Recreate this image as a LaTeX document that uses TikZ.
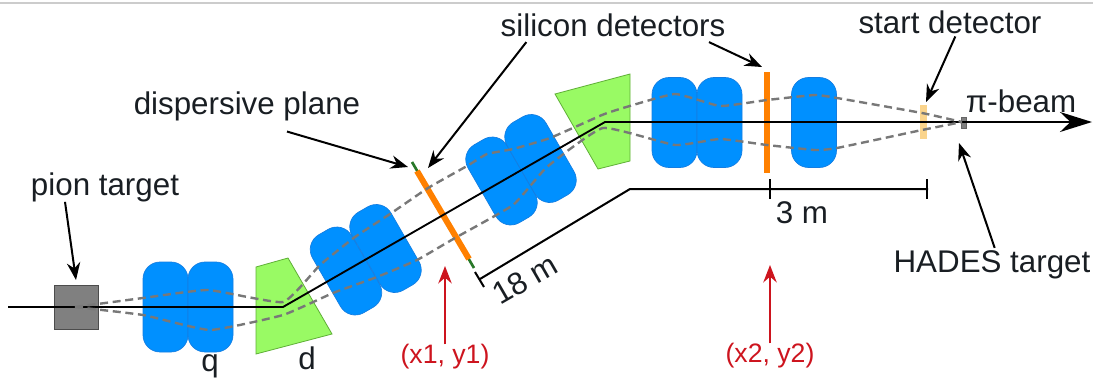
\documentclass[tikz,border=0pt]{standalone}
\usepackage{fontspec}
\setmainfont{Liberation Sans}
\usepackage{xcolor}
\usetikzlibrary{arrows.meta, positioning, calc}
\definecolor{QuadBlue}{RGB}{0, 144, 255}
\definecolor{QuadEdge}{RGB}{20, 125, 225}
\definecolor{DipoleGreen}{RGB}{153, 250, 100}
\definecolor{DipoleEdge}{RGB}{95, 175, 55}
\definecolor{SiliconOrange}{RGB}{255, 128, 0}
\definecolor{StartYellow}{RGB}{250, 212, 140}
\definecolor{PlaneGreen}{RGB}{40, 120, 40}
\definecolor{TargetGrey}{RGB}{128, 128, 128}
\definecolor{PathGrey}{RGB}{120, 120, 120}
\definecolor{LabelDark}{RGB}{25, 30, 35}
\definecolor{ReadoutRed}{RGB}{205, 20, 30}
\def\px{0.75pt}
\tikzset{
  quadbox/.style={draw=QuadEdge, line width=0.5pt, fill=QuadBlue, rounded corners=17*\px,
    minimum width=45*\px, minimum height=90*\px, inner sep=0pt},
  dipolebox/.style={draw=DipoleEdge, line width=0.6pt, fill=DipoleGreen},
  beamline/.style={black, line width=1.4pt},
  envelope/.style={PathGrey, line width=1.8pt, dash pattern=on 6pt off 3.5pt},
  scaleline/.style={black, line width=1.5pt},
  callout/.style={black, line width=1.5pt, -{Stealth[length=13pt, width=10pt]}},
  readout/.style={ReadoutRed, line width=1.8pt, -{Stealth[length=13pt, width=10pt]}},
  lbl/.style={font=\fontsize{23.5}{27}\selectfont, text=LabelDark, inner sep=0pt},
  redlbl/.style={font=\fontsize{20}{24}\selectfont, text=ReadoutRed, inner sep=0pt}
}
\begin{document}
\begin{tikzpicture}[x=0.75pt, y=-0.75pt]
    \path[use as bounding box] (0,0) rectangle (1093,379);
    \draw[black!20, line width=0.8pt] (0,3) -- (1093,3);

    \node[quadbox] (quadA) at (165.5,307) {};
    \node[quadbox] (quadB) at (210.5,307) {};
    \node[quadbox, rotate=30] (quadC) at (346,271) {};
    \node[quadbox, rotate=30] (quadD) at (385.5,248.5) {};
    \node[quadbox, rotate=30] (quadE) at (501.5,181) {};
    \node[quadbox, rotate=30] (quadF) at (540.5,158.5) {};
    \node[quadbox] (quadG) at (674.5,122.5) {};
    \node[quadbox] (quadH) at (719.5,122.5) {};
    \node[quadbox] (quadI) at (814,122.5) {};

    \draw[dipolebox] (256,267) -- (288,258) -- (332,334) -- (256,354) -- cycle;
    \draw[dipolebox] (555,94) -- (630,74) -- (630,161) -- (598,169) -- cycle;

    \node[draw=black!70, line width=0.7pt, fill=TargetGrey, minimum size=44*\px, inner sep=0pt] (piontarget) at (76.5,307) {};
    \node[fill=StartYellow, minimum width=7*\px, minimum height=34*\px, inner sep=0pt] (startdet) at (923.5,122) {};
    \node[draw=black!60, line width=0.4pt, fill=TargetGrey, minimum width=5*\px, minimum height=11*\px, inner sep=0pt] (hades) at (963.5,122.5) {};

    \coordinate (planetop) at (412,162);
    \coordinate (planebot) at (474,268);
    \draw[PlaneGreen, line width=2pt] (planetop) -- (planebot);
    \draw[SiliconOrange, line width=4.5pt] (417,171) -- (469,259);
    \draw[SiliconOrange, line width=4pt] (767,72) -- (767,173);

    \draw[beamline] (8,307) -- (283,307) -- (605,122) -- (1060,122);
    \draw[beamline, -{Stealth[length=24pt, width=15pt]}] (1000,122) -- (1092,122);

    \draw[envelope] plot[smooth, tension=0.25] coordinates {(75,307) (143,298) (208,290) (283,302) (320,265) (355,237) (390,214) (428,188) (467,166) (487,154) (513,149) (550,138) (602,115) (623,108) (675,94) (720,106) (767,100) (815,95) (837,98) (922,113) (962,122)};
    \draw[envelope] plot[smooth, tension=0.25] coordinates {(75,307) (143,315) (210,330) (283,315) (333,293) (377,277) (417,260) (455,238) (513,205) (547,167) (603,128) (675,145) (720,139) (767,145) (815,150) (837,148) (922,130) (962,122)};

    \draw[scaleline] (480,279) -- (630,189) -- (928,189);
    \draw[scaleline] (475,272) -- (484,287);
    \draw[scaleline] (770,179) -- (770,199);
    \draw[scaleline] (927,179) -- (927,199);

    \node[lbl] (pionlabel) at (105,187) {pion target};
    \node[lbl] (planelabel) at (247,106) {dispersive plane};
    \node[lbl] (siliconlabel) at (613,25) {silicon detectors};
    \node[lbl] (startlabel) at (950,22) {start detector};
    \node[lbl] (beamlabel) at (1021,101) {π-beam};
    \node[lbl] (hadeslabel) at (992,265) {HADES target};
    \node[lbl] (threem) at (802,213) {3 m};
    \node[lbl, rotate=30] (eighteenm) at (525,279) {18 m};
    \node[lbl] (quadlabel) at (210,366) {q};
    \node[lbl] (dipolelabel) at (307,358) {d};
    \node[redlbl] (firstpos) at (445,357) {(x1, y1)};
    \node[redlbl] (secondpos) at (770,356) {(x2, y2)};

    \coordinate (piontip) at (76,280);
    \coordinate (planetip) at (408,167);
    \coordinate (silicontipA) at (428,168);
    \coordinate (silicontipB) at (762,67);
    \coordinate (starttip) at (926,102);
    \coordinate (hadestip) at (959,143);
    \coordinate (firsttip) at (445,266);
    \coordinate (secondtip) at (770,265);

    \draw[callout] ([xshift=-30pt]pionlabel.south) -- (piontip);
    \draw[callout] ([xshift=30pt, yshift=-8pt]planelabel.south) -- (planetip);
    \draw[callout] ([xshift=-65pt, yshift=-4pt]siliconlabel.south) -- (silicontipA);
    \draw[callout] ([xshift=72pt, yshift=-4pt]siliconlabel.south) -- (silicontipB);
    \draw[callout] ([xshift=4pt, yshift=-2pt]startlabel.south) -- (starttip);
    \draw[callout] ([xshift=2pt, yshift=2pt]hadeslabel.north) -- (hadestip);
    \draw[readout] (firstpos.north) -- (firsttip);
    \draw[readout] (secondpos.north) -- (secondtip);
\end{tikzpicture}
\end{document}
